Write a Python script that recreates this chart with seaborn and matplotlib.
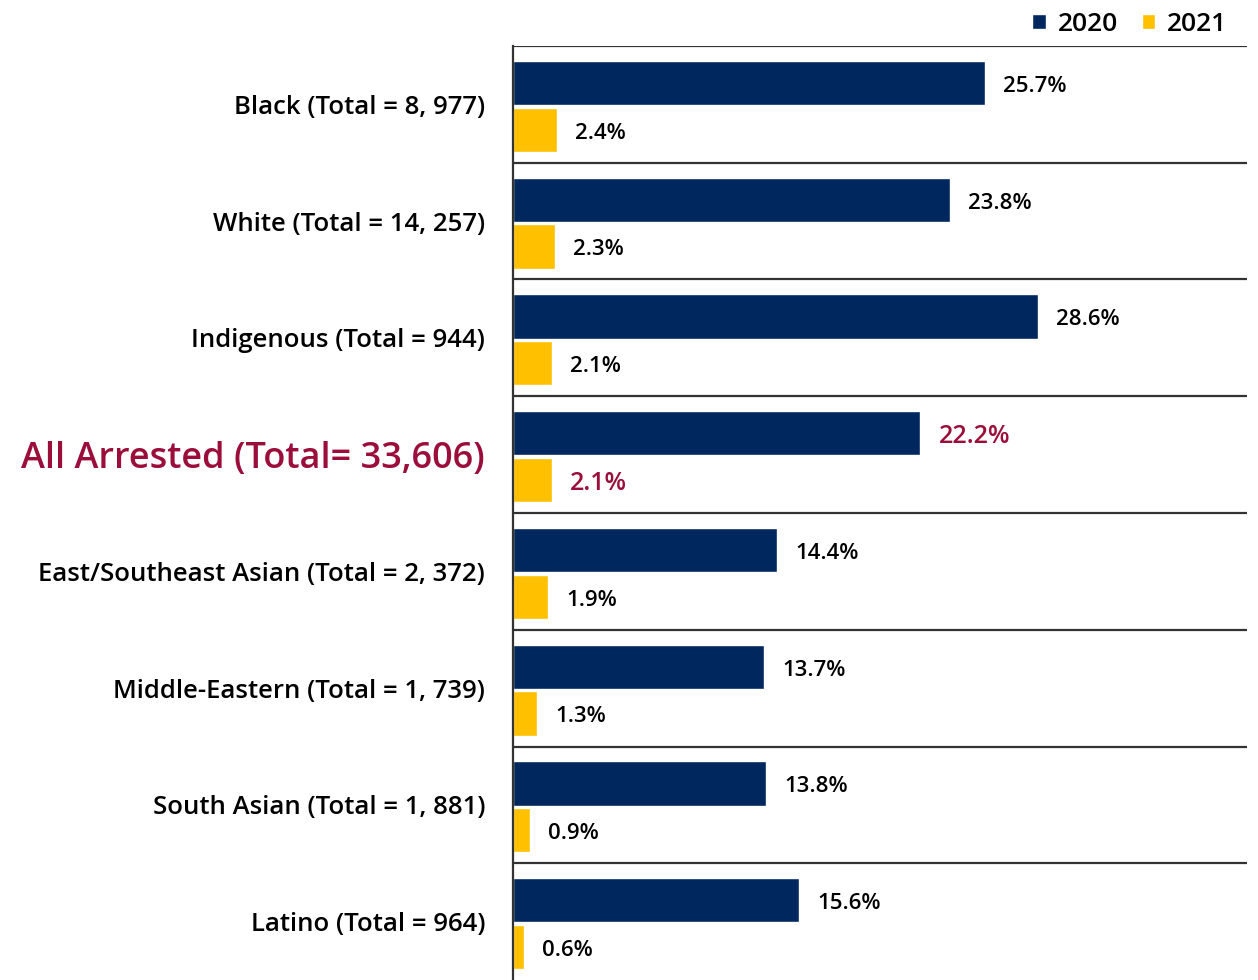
import pandas as pd
import matplotlib
matplotlib.use("Agg")
import matplotlib.pyplot as plt
import seaborn as sns

# Data
groups = [
    "Black (Total = 8, 977)",
    "White (Total = 14, 257)",
    "Indigenous (Total = 944)",
    "All Arrested (Total= 33,606)",
    "East/Southeast Asian (Total = 2, 372)",
    "Middle-Eastern (Total = 1, 739)",
    "South Asian (Total = 1, 881)",
    "Latino (Total = 964)",
]
pct_2020 = [25.7, 23.8, 28.6, 22.2, 14.4, 13.7, 13.8, 15.6]
pct_2021 = [2.4, 2.3, 2.1, 2.1, 1.9, 1.3, 0.9, 0.6]
years = ["2020", "2021"]

navy = "#00285E"
gold = "#FFC000"
crimson = "#9B0D3A"
highlight = 3  # index of "All Arrested"

df = pd.DataFrame({
    "group": groups * 2,
    "year": [years[0]] * len(groups) + [years[1]] * len(groups),
    "pct": pct_2020 + pct_2021,
})

sns.set_style("white")
plt.rcParams["font.family"] = ["Open Sans", "DejaVu Sans"]
plt.rcParams["font.weight"] = 600
plt.rcParams["text.color"] = "black"
plt.rcParams["ytick.color"] = "black"

fig = plt.figure(figsize=(12.58, 9.8), dpi=100)
ax = fig.add_axes([513 / 1258, 0.0, (1247 - 513) / 1258, 1 - 46 / 980])

sns.barplot(data=df, x="pct", y="group", hue="year", order=groups,
            hue_order=years, palette=[navy, gold], orient="h",
            width=0.8, saturation=1, ax=ax)

# small gap between the two bars of a group
for bar in ax.patches:
    h = bar.get_height()
    if h <= 0:
        continue
    new_h = 0.38
    bar.set_y(bar.get_y() + (h - new_h) / 2 + 0.017)
    bar.set_height(new_h)

ax.set_xlim(0, 40)
ax.set_ylim(len(groups) - 0.5, -0.5)

# separators between groups
for i in range(len(groups)):
    ax.axhline(i - 0.5, color="#333333", lw=1.6, zorder=0)

for side in ["top", "right", "bottom"]:
    ax.spines[side].set_visible(False)
ax.spines["left"].set_color("#333333")
ax.spines["left"].set_linewidth(1.6)

ax.set_xticks([])
ax.set_xlabel("")
ax.set_ylabel("")
ax.tick_params(axis="y", length=0, pad=20, labelsize=18.5)
for i, lab in enumerate(ax.get_yticklabels()):
    lab.set_fontweight(600)
    if i == highlight:
        lab.set_color(crimson)
        lab.set_fontsize(26)

# value labels
for cont in ax.containers:
    texts = ax.bar_label(cont, fmt="%.1f%%", padding=13, fontsize=16,
                         fontweight=600, color="black")
    for i, t in enumerate(texts):
        t.xyann = (13, -2.5)
        if i == highlight:
            t.set_color(crimson)
            t.set_fontsize(18)

leg = ax.legend(loc="lower right", bbox_to_anchor=(0.985, 1.0), ncol=2,
                frameon=False, handlelength=0.5,
                handleheight=0.5, handletextpad=0.45, columnspacing=0.9,
                borderaxespad=0.25, borderpad=0.1,
                prop={"family": "Open Sans", "size": 19, "weight": 600})
for t in leg.get_texts():
    t.set_color("black")

fig.savefig("out.png", dpi=100)
